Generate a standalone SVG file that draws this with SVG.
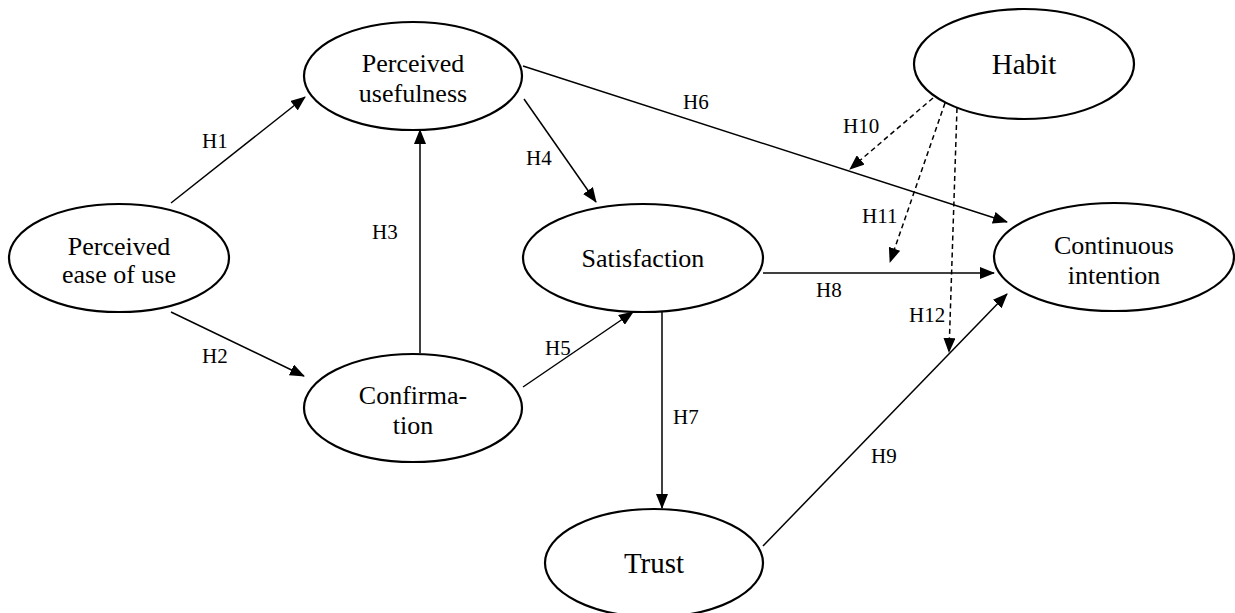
<svg xmlns="http://www.w3.org/2000/svg" width="1235" height="613" viewBox="0 0 1235 613" font-family="'Liberation Serif', 'Times New Roman', Tinos, 'DejaVu Serif', serif">
<style>
  .node ellipse { fill: #fff; stroke: #000; stroke-width: 2.2; }
  .node text { font-family: "Liberation Serif", "Times New Roman", "DejaVu Serif", serif; font-size: 26px; fill: #000; text-anchor: middle; }
  .node text.big { font-size: 29px; }
  .conn line { stroke: #000; stroke-width: 1.5; fill: none; marker-end: url(#ah); }
  .conn line.dash { stroke-dasharray: 5 3.5; }
  .lbl { font-family: "Liberation Serif", "Times New Roman", "DejaVu Serif", serif; font-size: 21px; fill: #000; }
</style>
<defs>
  <marker id="ah" viewBox="0 0 15 12" refX="14" refY="6" markerWidth="15" markerHeight="12" markerUnits="userSpaceOnUse" orient="auto">
    <path d="M0,0 L15,6 L0,12 z" fill="#000"/>
  </marker>
</defs>
<rect width="1235" height="613" fill="#fff"/>

<g id="connectors" class="conn">
  <line id="h1" x1="171" y1="203" x2="305" y2="97"/>
  <line id="h2" x1="171" y1="312" x2="304" y2="376"/>
  <line id="h3" x1="420" y1="353" x2="420" y2="130"/>
  <line id="h4" x1="524" y1="99" x2="596" y2="202"/>
  <line id="h5" x1="523" y1="387" x2="633" y2="312"/>
  <line id="h6" x1="523" y1="66" x2="1007" y2="222"/>
  <line id="h7" x1="662" y1="312" x2="662" y2="508"/>
  <line id="h8" x1="763" y1="273" x2="994" y2="273"/>
  <line id="h9" x1="763" y1="546" x2="1007" y2="294"/>
  <line id="h10" class="dash" x1="933" y1="98" x2="850" y2="169"/>
  <line id="h11" class="dash" x1="945" y1="103" x2="890" y2="262"/>
  <line id="h12" class="dash" x1="957" y1="108" x2="949" y2="352"/>
</g>

<g id="labels">
  <text class="lbl" x="202" y="148">H1</text>
  <text class="lbl" x="202" y="363">H2</text>
  <text class="lbl" x="372" y="239">H3</text>
  <text class="lbl" x="526" y="165">H4</text>
  <text class="lbl" x="545" y="355">H5</text>
  <text class="lbl" x="683" y="109">H6</text>
  <text class="lbl" x="673" y="424">H7</text>
  <text class="lbl" x="816" y="297">H8</text>
  <text class="lbl" x="871" y="463">H9</text>
  <text class="lbl" x="843" y="133">H10</text>
  <text class="lbl" x="862" y="223">H11</text>
  <text class="lbl" x="909" y="322">H12</text>
</g>

<g id="peou" class="node">
  <ellipse cx="119" cy="258" rx="110" ry="54"/>
  <text x="119" y="255">Perceived</text>
  <text x="119" y="283">ease of use</text>
</g>
<g id="pu" class="node">
  <ellipse cx="413" cy="76" rx="109" ry="54"/>
  <text x="413" y="72">Perceived</text>
  <text x="413" y="102">usefulness</text>
</g>
<g id="conf" class="node">
  <ellipse cx="413" cy="408" rx="109" ry="54"/>
  <text x="413" y="404">Confirma-</text>
  <text x="413" y="434">tion</text>
</g>
<g id="sat" class="node">
  <ellipse cx="643" cy="258" rx="120" ry="54"/>
  <text x="643" y="267">Satisfaction</text>
</g>
<g id="trust" class="node">
  <ellipse cx="654" cy="563" rx="109" ry="54"/>
  <text class="big" x="654" y="573">Trust</text>
</g>
<g id="habit" class="node">
  <ellipse cx="1024" cy="64" rx="110" ry="55"/>
  <text class="big" x="1024" y="74">Habit</text>
</g>
<g id="ci" class="node">
  <ellipse cx="1114" cy="257" rx="120" ry="54"/>
  <text x="1114" y="254">Continuous</text>
  <text x="1114" y="284">intention</text>
</g>
</svg>
